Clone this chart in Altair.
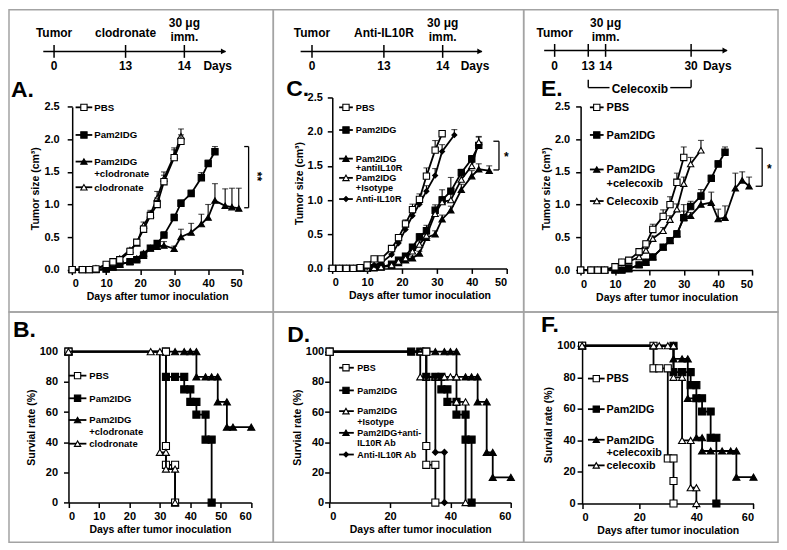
import altair as alt
import pandas as pd

FONT = "Liberation Sans"

# ============================ DATA ============================
# ---- Panel A: tumour size (cm3), clodronate experiment (mean, SEM) ----
A_PBS_D = [0, 3, 5, 7, 10, 12, 14, 17, 19, 21, 23, 25, 27, 30, 32]
A_PBS_V = [0, 0, 0, 0.01, 0.08, 0.12, 0.15, 0.28, 0.42, 0.62, 0.83, 1.00, 1.35, 1.72, 1.97]
A_PBS_E = [0, 0, 0, 0, 0.01, 0.02, 0.02, 0.03, 0.03, 0.05, 0.06, 0.10, 0.10, 0.12, 0.10]
A_PAM_D = [0, 3, 5, 7, 10, 12, 14, 17, 19, 21, 23, 25, 27, 30, 32, 35, 38, 40, 42]
A_PAM_V = [0, 0, 0, 0, 0.01, 0.04, 0.08, 0.12, 0.15, 0.22, 0.33, 0.40, 0.53, 0.80, 1.02, 1.17, 1.41, 1.63, 1.81]
A_PAM_E = [0, 0, 0, 0, 0, 0.01, 0.01, 0.02, 0.02, 0.03, 0.03, 0.04, 0.05, 0.05, 0.05, 0.05, 0.08, 0.05, 0.08]
A_PCL_D = [0, 3, 5, 7, 10, 12, 14, 17, 19, 21, 23, 25, 27, 30, 32, 35, 38, 40, 42, 45, 47, 49]
A_PCL_V = [0, 0, 0, 0, 0.01, 0.04, 0.08, 0.12, 0.17, 0.25, 0.33, 0.35, 0.37, 0.32, 0.50, 0.57, 0.70, 0.80, 1.06, 0.98, 0.96, 0.94]
A_PCL_E = [0, 0, 0, 0, 0, 0.01, 0.01, 0.02, 0.02, 0.03, 0.04, 0.04, 0.06, 0.04, 0.12, 0.14, 0.15, 0.20, 0.26, 0.26, 0.29, 0.31]
A_CLO_D = [0, 3, 5, 7, 10, 12, 14, 17, 19, 21, 23, 25, 27, 30, 32]
A_CLO_V = [0, 0, 0, 0.02, 0.06, 0.10, 0.17, 0.30, 0.40, 0.68, 0.85, 1.10, 1.40, 1.75, 2.05]
A_CLO_E = [0, 0, 0, 0, 0.01, 0.01, 0.02, 0.03, 0.04, 0.05, 0.06, 0.10, 0.10, 0.12, 0.11]

# ---- Panel C: tumour size (cm3), anti-IL10R experiment ----
C_PBS_D = [0, 2, 4, 6, 8, 10, 12, 14, 17, 19, 21, 23, 25, 27, 29.5, 31.5]
C_PBS_V = [0, 0, 0, 0, 0.01, 0.05, 0.14, 0.14, 0.29, 0.45, 0.65, 0.86, 1.01, 1.35, 1.73, 1.97]
C_PBS_E = [0, 0, 0, 0, 0, 0.01, 0.02, 0.02, 0.03, 0.03, 0.06, 0.08, 0.08, 0.12, 0.14, 0.04]
C_PAM_D = [0, 2, 4, 6, 8, 10, 12, 14, 17, 19, 21, 23, 25, 27, 29.5, 31.5, 34, 37, 40, 42]
C_PAM_V = [0, 0, 0, 0, 0, 0, 0.01, 0.02, 0.06, 0.12, 0.18, 0.31, 0.46, 0.55, 0.85, 1.00, 1.13, 1.40, 1.60, 1.80]
C_PAM_E = [0, 0, 0, 0, 0, 0, 0, 0.01, 0.01, 0.02, 0.03, 0.04, 0.05, 0.08, 0.08, 0.15, 0.20, 0.05, 0.05, 0.12]
C_PAI_D = [0, 2, 4, 6, 8, 10, 12, 14, 17, 19, 21, 23, 25, 27, 29.5, 31.5, 34, 37, 40, 42, 45]
C_PAI_V = [0, 0, 0, 0, 0, 0, 0.01, 0.02, 0.04, 0.08, 0.12, 0.15, 0.22, 0.45, 0.50, 0.72, 0.85, 1.15, 1.35, 1.45, 1.43]
C_PAI_E = [0, 0, 0, 0, 0, 0, 0, 0, 0.01, 0.01, 0.02, 0.03, 0.03, 0.05, 0.05, 0.06, 0.06, 0.08, 0.08, 0.08, 0.07]
C_ISO_D = [0, 2, 4, 6, 8, 10, 12, 14, 17, 19, 21, 23, 25, 27, 29.5, 31.5, 34, 37, 40, 42]
C_ISO_V = [0, 0, 0, 0, 0, 0, 0.01, 0.02, 0.05, 0.10, 0.15, 0.25, 0.35, 0.48, 0.80, 0.97, 1.00, 1.30, 1.50, 1.85]
C_ISO_E = [0, 0, 0, 0, 0, 0, 0, 0.01, 0.01, 0.02, 0.03, 0.04, 0.05, 0.05, 0.06, 0.08, 0.10, 0.08, 0.15, 0.08]
C_AIL_D = [0, 2, 4, 6, 8, 10, 12, 14, 17, 19, 21, 23, 25, 27, 29.5, 31.5, 35]
C_AIL_V = [0, 0, 0, 0, 0, 0.02, 0.05, 0.08, 0.20, 0.37, 0.57, 0.77, 0.94, 1.13, 1.36, 1.71, 1.95]
C_AIL_E = [0, 0, 0, 0, 0, 0, 0.01, 0.01, 0.02, 0.03, 0.04, 0.05, 0.06, 0.08, 0.10, 0.10, 0.08]

# ---- Panel E: tumour size (cm3), celecoxib experiment ----
E_PBS_D = [0, 3, 5, 7, 10, 12, 14, 17, 19, 21, 24, 26, 28, 30]
E_PBS_V = [0, 0, 0, 0, 0.05, 0.12, 0.15, 0.28, 0.40, 0.62, 0.82, 1.00, 1.34, 1.72]
E_PBS_E = [0, 0, 0, 0, 0.01, 0.02, 0.02, 0.03, 0.04, 0.08, 0.10, 0.12, 0.14, 0.16]
E_PAM_D = [0, 3, 5, 7, 10, 12, 14, 17, 19, 21, 24, 26, 28, 30, 32, 35, 38, 40, 42]
E_PAM_V = [0, 0, 0, 0, 0, 0, 0.02, 0.08, 0.12, 0.20, 0.35, 0.45, 0.55, 0.80, 0.97, 1.13, 1.40, 1.62, 1.80]
E_PAM_E = [0, 0, 0, 0, 0, 0, 0, 0.01, 0.01, 0.02, 0.03, 0.04, 0.05, 0.10, 0.08, 0.10, 0.05, 0.05, 0.08]
E_PCE_D = [0, 3, 5, 7, 10, 12, 14, 17, 19, 21, 24, 26, 28, 30, 32, 35, 38, 40, 42, 45, 47, 49]
E_PCE_V = [0, 0, 0, 0, 0, 0, 0.02, 0.08, 0.12, 0.20, 0.35, 0.45, 0.55, 0.80, 0.83, 1.00, 1.03, 0.78, 0.80, 1.25, 1.37, 1.28]
E_PCE_E = [0, 0, 0, 0, 0, 0, 0, 0.01, 0.01, 0.02, 0.03, 0.04, 0.05, 0.20, 0.05, 0.08, 0.16, 0.15, 0.18, 0.23, 0.13, 0.14]
E_CEL_D = [0, 3, 5, 7, 10, 12, 14, 17, 19, 21, 24, 26, 28, 30, 32, 35]
E_CEL_V = [0, 0, 0, 0, 0.05, 0.12, 0.13, 0.20, 0.30, 0.48, 0.60, 0.77, 0.93, 1.32, 1.62, 1.83]
E_CEL_E = [0, 0, 0, 0, 0.01, 0.01, 0.02, 0.02, 0.03, 0.04, 0.05, 0.06, 0.08, 0.10, 0.10, 0.15]

# ---- Panel B: survival (%), clodronate ----
B_PBS_T = [0, 32, 32, 32, 35, 35]
B_PBS_S = [100, 100, 37.5, 25, 25, 0]
B_PAM_T = [0, 32, 32, 35, 38, 38, 40, 40, 42, 42, 45, 45, 47, 47]
B_PAM_S = [100, 100, 83.3, 83.3, 83.3, 75, 75, 66.7, 66.7, 58.3, 58.3, 41.7, 41.7, 0]
B_PCL_T = [0, 32, 35, 38, 40, 42, 42, 45, 47, 49, 49, 52, 52, 54, 60]
B_PCL_S = [100, 100, 100, 100, 100, 100, 83.3, 83.3, 83.3, 83.3, 66.7, 66.7, 50, 50, 50]
B_CLO_T = [0, 27, 30, 30, 32, 32, 35, 35]
B_CLO_S = [100, 100, 100, 33.3, 33.3, 22.2, 22.2, 0]

# ---- Panel D: survival (%), anti-IL10R ----
D_PBS_T = [0, 32, 32, 32, 35, 35]
D_PBS_S = [100, 100, 37.5, 25, 25, 0]
D_PAM_T = [0, 27, 30, 32, 32, 35, 37, 37, 39, 39, 42, 42, 45, 45, 47, 47]
D_PAM_S = [100, 100, 100, 100, 83.3, 83.3, 83.3, 75, 75, 66.7, 66.7, 58.3, 58.3, 41.7, 41.7, 0]
D_ISO_T = [0, 30, 30, 32, 35, 38, 40, 42, 42, 45, 45]
D_ISO_S = [100, 100, 83.3, 83.3, 83.3, 83.3, 83.3, 83.3, 66.7, 66.7, 0]
D_PAI_T = [0, 35, 38, 40, 42, 42, 45, 47, 49, 49, 52, 52, 54, 54, 60]
D_PAI_S = [100, 100, 100, 100, 100, 83.3, 83.3, 83.3, 83.3, 66.7, 66.7, 33.3, 33.3, 16.7, 16.7]
D_AIL_T = [0, 32, 32, 35, 35, 38, 38]
D_AIL_S = [100, 100, 83.3, 83.3, 33.3, 33.3, 0]

# ---- Panel F: survival (%), celecoxib ----
F_PBS_T = [0, 25, 25, 27, 30, 30, 32, 32, 32]
F_PBS_S = [100, 100, 85.7, 85.7, 85.7, 28.6, 28.6, 14.3, 0]
F_PAM_T = [0, 32, 32, 35, 38, 38, 40, 40, 42, 42, 45, 45, 47, 47]
F_PAM_S = [100, 100, 83.3, 83.3, 83.3, 75, 75, 66.7, 66.7, 58.3, 58.3, 41.7, 41.7, 0]
F_PCE_T = [0, 32, 32, 35, 37, 37, 40, 40, 42, 42, 45, 49, 52, 54, 54, 60]
F_PCE_S = [100, 100, 91.7, 91.7, 91.7, 66.7, 66.7, 41.7, 41.7, 33.3, 33.3, 33.3, 33.3, 33.3, 16.7, 16.7]
F_CEL_T = [0, 25, 27, 30, 32, 32, 35, 35, 38, 38, 40, 40]
F_CEL_S = [100, 100, 100, 100, 100, 80, 80, 40, 40, 10, 10, 0]

# ---- Timelines (days) ----
TL_A_DAYS = [0, 13, 14]
TL_A_EVENTS = [(0, "Tumor"), (13, "clodronate"), (14, "30 μg\nimm.")]
TL_C_DAYS = [0, 13, 14]
TL_C_EVENTS = [(0, "Tumor"), (13, "Anti-IL10R"), (14, "30 μg\nimm.")]
TL_E_DAYS = [0, 13, 14, 30]
TL_E_EVENTS = [(0, "Tumor"), (14, "30 μg\nimm.")]
CELECOXIB_PERIOD = (13, 30)

# ============================ LAYOUT ============================
SX = 771 / 785
SY = 534 / 540
X_COLS = [0, 265, 516]
W_COLS = [265, 251, 255]
Y_ROWS = [0, 303]
H_ROWS = [303, 231]


def lx(X, c):
    return (X - 1) * SX - X_COLS[c]


def ly(Y, r):
    return (Y - 1) * SY - Y_ROWS[r]


def one():
    return pd.DataFrame({"a": [0]})


def txt(text, X, Y, c, r, size=10, align="left", baseline="middle", angle=0,
        weight="bold", lh=None):
    kw = dict(text=text, align=align, baseline=baseline, fontSize=size, fontWeight=weight,
              font=FONT, color="black", fill="black", lineBreak="\n", angle=angle)
    if lh:
        kw["lineHeight"] = lh
    return alt.Chart(one()).mark_text(**kw).encode(
        x=alt.value(lx(X, c)), y=alt.value(ly(Y, r)))


def series_layers(d, v, e, shape, filled, size, XF, YF):
    df = pd.DataFrame({"d": d, "v": v, "i": list(range(len(d)))})
    out = [alt.Chart(df).mark_line(color="black", strokeWidth=1.8).encode(
        x=XF("d:Q"), y=YF("v:Q"), order=alt.Order("i:Q"))]
    if e is not None:
        de = pd.DataFrame({"d": d, "v": v, "u": [a + b for a, b in zip(v, e)], "e": e})
        de = de[de["e"] > 0.015]
        if len(de):
            out.append(alt.Chart(de).mark_rule(color="black", strokeWidth=1.1).encode(
                x=XF("d:Q"), y=YF("v:Q"), y2="u:Q"))
            out.append(alt.Chart(de).mark_tick(color="black", orient="horizontal", size=6,
                                               thickness=1.1).encode(
                x=XF("d:Q"), y=YF("u:Q")))
    out.append(alt.Chart(df).mark_point(
        shape=shape, filled=True, fill="black" if filled else "white", stroke="black",
        strokeWidth=1.1, size=size, opacity=1).encode(x=XF("d:Q"), y=YF("v:Q")))
    return out


def plot_panel(p):
    c, r = p["col"], p["row"]
    H = H_ROWS[r]
    xs = alt.Scale(domain=list(p["xdom"]), range=[lx(p["x"][0], c), lx(p["x"][1], c)],
                   nice=False, zero=False)
    ys = alt.Scale(domain=list(p["ydom"]), range=[ly(p["y"][0], r), ly(p["y"][1], r)],
                   nice=False, zero=False)
    xaxis = alt.Axis(orient="bottom", offset=ly(p["y"][0], r) - H, values=p["xticks"],
                     title="Days after tumor inoculation", format="d",
                     labelPadding=p["xlp"], titlePadding=p["xtp"])
    yaxis = alt.Axis(orient="left", offset=-lx(p["x"][0], c), values=p["yticks"],
                     format=p["yfmt"], title=p["ytitle"],
                     labelPadding=p["ylp"], titlePadding=p["ytp"])

    def XF(f):
        return alt.X(f, scale=xs, axis=xaxis)

    def YF(f):
        return alt.Y(f, scale=ys, axis=yaxis)

    layers = []
    for s in p["series"]:
        layers += series_layers(*s, XF, YF)
    if p.get("bracket"):
        (bx, bx0, y1, y2) = p["bracket"]
        bdf = pd.DataFrame({"x": [bx0, bx, bx0], "x2": [bx, bx, bx],
                            "y": [y1, y1, y2], "y2": [y1, y2, y2]})
        layers.append(alt.Chart(bdf).mark_rule(color="black", strokeWidth=1.3).encode(
            x=XF("x:Q"), x2="x2:Q", y=YF("y:Q"), y2="y2:Q"))
        sx_, sy_, stext, sang = p["star"]
        sdf = pd.DataFrame({"x": [sx_], "y": [sy_], "s": [stext]})
        layers.append(alt.Chart(sdf).mark_text(angle=sang, fontSize=12,
                                               fontWeight="bold", font=FONT,
                                               color="black", fill="black").encode(
            x=XF("x:Q"), y=YF("y:Q"), text="s:N"))
    # legend
    lg = p["legend"]
    for (label, shape, filled, Yc, size) in lg["rows"]:
        layers.append(alt.Chart(one()).mark_rule(color="black", strokeWidth=1.8).encode(
            x=alt.value(lx(lg["l0"], c)), x2=alt.value(lx(lg["l1"], c)), y=alt.value(ly(Yc, r))))
        layers.append(alt.Chart(one()).mark_point(
            shape=shape, filled=True, fill="black" if filled else "white", stroke="black",
            strokeWidth=1.1, size=size, opacity=1).encode(
            x=alt.value(lx(lg["m"], c)), y=alt.value(ly(Yc, r))))
        layers.append(txt(label, lg["t"], Yc + lg["fs"] * 0.36, c, r, size=lg["fs"],
                          baseline="alphabetic", lh=lg["lh"]))
    layers.append(txt(p["letter"][0], p["letter"][1], p["letter"][2], c, r, size=23,
                      baseline="alphabetic"))
    return alt.layer(*layers)


def timeline(days, events, pos, line, ytl, c, extra=None):
    xs = alt.Scale(domain=days, range=[lx(P, c) for P in pos], nice=False, zero=False)
    X = alt.X("d:Q", scale=xs, axis=None)
    layers = []
    layers.append(alt.Chart(one()).mark_rule(color="black", strokeWidth=1.5).encode(
        x=alt.value(lx(line[0], c)), x2=alt.value(lx(line[1], c)), y=alt.value(ly(ytl, 0))))
    layers.append(alt.Chart(one()).mark_point(
        shape="triangle-right", filled=True, color="black", size=35, opacity=1).encode(
        x=alt.value(lx(line[1], c) - 2), y=alt.value(ly(ytl, 0))))
    tdf = pd.DataFrame({"d": days, "lab": [str(d) for d in days]})
    layers.append(alt.Chart(tdf).mark_rule(color="black", strokeWidth=1.5).encode(
        x=X, y=alt.value(ly(ytl - 6.5, 0)), y2=alt.value(ly(ytl + 6.5, 0))))
    layers.append(alt.Chart(tdf).mark_text(fontSize=12, fontWeight="bold", font=FONT,
                                           baseline="middle", color="black").encode(
        x=X, y=alt.value(ly(58, 0)), text="lab:N"))
    layers.append(txt("Days", line[2], 58, c, 0, size=12, align="center"))
    for (d, label) in events:
        ycen = 15 if "\n" in label else 25
        edf = pd.DataFrame({"d": [d]})
        layers.append(alt.Chart(edf).mark_text(text=label, fontSize=12, fontWeight="bold",
                                               font=FONT, baseline="middle", lineBreak="\n",
                                               lineHeight=14, color="black").encode(
            x=X, y=alt.value(ly(ycen, 0))))
    if extra:
        (d0, d1), gap0, gap1, ybr, label = extra
        bdf = pd.DataFrame({"d": [d0, d1]})
        layers.append(alt.Chart(bdf).mark_rule(color="black", strokeWidth=1.4).encode(
            x=X, y=alt.value(ly(ybr - 8, 0)), y2=alt.value(ly(ybr, 0))))
        layers.append(alt.Chart(pd.DataFrame({"d": [d0]})).mark_rule(
            color="black", strokeWidth=1.4).encode(
            x=X, x2=alt.value(lx(gap0, c)), y=alt.value(ly(ybr, 0))))
        layers.append(alt.Chart(pd.DataFrame({"d": [d1]})).mark_rule(
            color="black", strokeWidth=1.4).encode(
            x=X, x2=alt.value(lx(gap1, c)), y=alt.value(ly(ybr, 0))))
        layers.append(txt(label, (gap0 + gap1) / 2, ybr + 1.5, c, 0, size=12, align="center"))
    return alt.layer(*layers)


SQ, TU, DI = "square", "triangle-up", "diamond"
TUM_Y = dict(ydom=(0, 2.5), yticks=[0, 0.5, 1.0, 1.5, 2.0, 2.5], yfmt=".1f",
             ytitle="Tumor size (cm³)", xlp=3, xtp=3)
SUR_Y = dict(ydom=(0, 100), yticks=[0, 20, 40, 60, 80, 100], yfmt="d",
             ytitle="Survial rate (%)", xlp=3, xtp=3)

PA = dict(col=0, row=0, x=(65.5, 239.0), y=(264.5, 99.5), xdom=(0, 50),
          xticks=[0, 10, 20, 30, 40, 50], **TUM_Y, ylp=8, ytp=3,
          series=[(A_PCL_D, A_PCL_V, A_PCL_E, TU, True, 40),
                  (A_PAM_D, A_PAM_V, A_PAM_E, SQ, True, 40),
                  (A_CLO_D, A_CLO_V, A_CLO_E, TU, False, 40),
                  (A_PBS_D, A_PBS_V, A_PBS_E, SQ, False, 40)],
          bracket=(51.9, 50.6, 1.89, 0.95), star=(54.3, 1.43, "**", 90),
          legend=dict(l0=69, l1=86, m=77.5, t=88, fs=9.7, lh=12,
                      rows=[("PBS", SQ, False, 100, 40), ("Pam2IDG", SQ, True, 128, 40),
                            ("Pam2IDG\n+clodronate", TU, True, 155, 40),
                            ("clodronate", TU, False, 181, 40)]),
          letter=("A.", 3, 90))
PC = dict(col=1, row=0, x=(331, 509), y=(263.3, 90), xdom=(0, 50),
          xticks=[0, 10, 20, 30, 40, 50], **TUM_Y, ylp=5, ytp=3,
          series=[(C_PAI_D, C_PAI_V, C_PAI_E, TU, True, 40),
                  (C_PAM_D, C_PAM_V, C_PAM_E, SQ, True, 40),
                  (C_ISO_D, C_ISO_V, C_ISO_E, TU, False, 40),
                  (C_AIL_D, C_AIL_V, C_AIL_E, DI, True, 25),
                  (C_PBS_D, C_PBS_V, C_PBS_E, SQ, False, 40)],
          bracket=(47.8, 46.2, 1.86, 1.44), star=(49.9, 1.63, "*", 0),
          legend=dict(l0=338, l1=352, m=345, t=355, fs=9.2, lh=9.5,
                      rows=[("PBS", SQ, False, 100, 40), ("Pam2IDG", SQ, True, 123, 40),
                            ("Pam2IDG\n+antiIL10R", TU, True, 152, 40),
                            ("Pam2IDG\n+Isotype", TU, False, 171.5, 40),
                            ("Anti-IL10R", DI, True, 193, 25)]),
          letter=("C.", 284, 88))
PE = dict(col=2, row=0, x=(584.5, 760), y=(265, 99), xdom=(0, 50),
          xticks=[0, 10, 20, 30, 40, 50], **TUM_Y, ylp=6, ytp=3,
          series=[(E_PCE_D, E_PCE_V, E_PCE_E, TU, True, 40),
                  (E_PAM_D, E_PAM_V, E_PAM_E, SQ, True, 40),
                  (E_CEL_D, E_CEL_V, E_CEL_E, TU, False, 40),
                  (E_PBS_D, E_PBS_V, E_PBS_E, SQ, False, 40)],
          bracket=(52.8, 50.9, 1.86, 1.28), star=(54.9, 1.55, "*", 0),
          legend=dict(l0=594, l1=608, m=601, t=611, fs=11, lh=13.5,
                      rows=[("PBS", SQ, False, 100, 40), ("Pam2IDG", SQ, True, 128, 40),
                            ("Pam2IDG\n+celecoxib", TU, True, 163, 40),
                            ("Celecoxib", TU, False, 195, 40)]),
          letter=("E.", 544, 88))
PB = dict(col=0, row=1, x=(61.7, 248.3), y=(500.7, 347.7), xdom=(0, 60),
          xticks=[0, 10, 20, 30, 40, 50, 60], **SUR_Y, ylp=6, ytp=3,
          series=[(B_PCL_T, B_PCL_S, None, TU, True, 50),
                  (B_PAM_T, B_PAM_S, None, SQ, True, 50),
                  (B_PBS_T, B_PBS_S, None, SQ, False, 50),
                  (B_CLO_T, B_CLO_S, None, TU, False, 50)],
          legend=dict(l0=62, l1=80, m=71, t=83, fs=9.5, lh=11.5,
                      rows=[("PBS", SQ, False, 372, 40), ("Pam2IDG", SQ, True, 395, 40),
                            ("Pam2IDG\n+clodronate", TU, True, 417, 40),
                            ("clodronate", TU, False, 441, 40)]),
          letter=("B.", 5, 333))
PD = dict(col=1, row=1, x=(328.3, 513.3), y=(500.7, 347.7), xdom=(0, 60),
          xticks=[0, 20, 40, 60], **SUR_Y, ylp=1, ytp=3,
          series=[(D_PAI_T, D_PAI_S, None, TU, True, 50),
                  (D_PAM_T, D_PAM_S, None, SQ, True, 50),
                  (D_ISO_T, D_ISO_S, None, TU, False, 50),
                  (D_AIL_T, D_AIL_S, None, DI, True, 35),
                  (D_PBS_T, D_PBS_S, None, SQ, False, 50)],
          legend=dict(l0=338, l1=353, m=345, t=356.5, fs=9, lh=10.5,
                      rows=[("PBS", SQ, False, 364, 40), ("Pam2IDG", SQ, True, 387, 40),
                            ("Pam2IDG\n+Isotype", TU, False, 408, 40),
                            ("Pam2IDG+anti-\nIL10R Ab", TU, True, 430, 40),
                            ("Anti-IL10R Ab", DI, True, 452, 25)]),
          letter=("D.", 285, 338))
PF = dict(col=2, row=1, x=(586, 761), y=(501.7, 341.7), xdom=(0, 60),
          xticks=[0, 20, 40, 60], **SUR_Y, ylp=2, ytp=3,
          series=[(F_PCE_T, F_PCE_S, None, TU, True, 50),
                  (F_PAM_T, F_PAM_S, None, SQ, True, 50),
                  (F_PBS_T, F_PBS_S, None, SQ, False, 50),
                  (F_CEL_T, F_CEL_S, None, TU, False, 50)],
          legend=dict(l0=592, l1=609, m=600.5, t=611, fs=10.8, lh=12.5,
                      rows=[("PBS", SQ, False, 375, 40), ("Pam2IDG", SQ, True, 406, 40),
                            ("Pam2IDG\n+celecoxib", TU, True, 437, 40),
                            ("celecoxib", TU, False, 463, 40)]),
          letter=("F.", 544, 328))

tlA = timeline(TL_A_DAYS, TL_A_EVENTS, [47, 120, 180], (36, 222, 214), 43.3, 0)
tlC = timeline(TL_C_DAYS, TL_C_EVENTS, [310.3, 383.7, 443.7], (298.7, 483.7, 476.7), 43.3, 1)
tlE = timeline(TL_E_DAYS, TL_E_EVENTS, [558, 592.3, 610, 697.3], (547.3, 734, 724), 42.3, 2,
               extra=(CELECOXIB_PERIOD, 614, 676, 80, "Celecoxib"))


def top_cell(tl, p):
    return alt.layer(tl, plot_panel(p)).resolve_scale(
        x="independent", y="independent").properties(width=W_COLS[p["col"]], height=H_ROWS[0])


def bottom_cell(p):
    return plot_panel(p).properties(width=W_COLS[p["col"]], height=H_ROWS[1])


chart = alt.concat(
    top_cell(tlA, PA), top_cell(tlC, PC), top_cell(tlE, PE),
    bottom_cell(PB), bottom_cell(PD), bottom_cell(PF),
    columns=3, spacing=0, bounds="flush"
).properties(
    padding=0, background="white"
).configure_view(
    stroke="#a3a3a3", strokeWidth=1.5
).configure_axis(
    labelFont=FONT, labelFontSize=11, labelFontWeight="bold", labelColor="black",
    titleFont=FONT, titleFontSize=10.5, titleFontWeight="bold", titleColor="black",
    domainColor="black", domainWidth=1.5, tickColor="black", tickWidth=1.5, tickSize=5,
    grid=False
)

chart.save("out.html", embed_options={"renderer": "svg", "actions": False})
